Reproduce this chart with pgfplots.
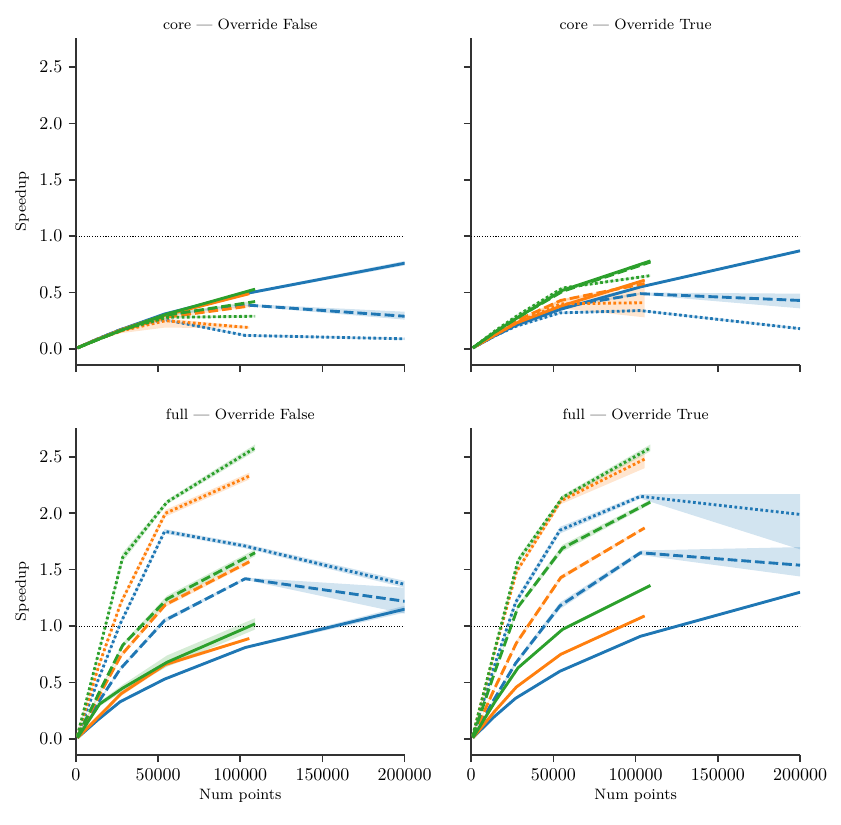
\documentclass[border=0pt]{standalone}
\usepackage{pgfplots}
\pgfplotsset{compat=1.18}
\usepackage{pgfplotstable}
\usepgfplotslibrary{groupplots,fillbetween}
\usetikzlibrary{calc}
\definecolor{tb}{HTML}{1F77B4}
\definecolor{to}{HTML}{FF7F0E}
\definecolor{tg}{HTML}{2CA02C}
\definecolor{spine}{HTML}{333333}

% columns: x, solid (s), dashed (d), dotted (p), each with lo/hi band
\pgfplotstableread{
x      s    slo  shi  d    dlo  dhi  p    plo  phi
1000   0.01 0.00 0.02 0.01 0.00 0.02 0.01 0.00 0.02
13500  0.09 0.08 0.10 0.09 0.08 0.10 0.09 0.08 0.10
27000  0.17 0.16 0.18 0.17 0.16 0.18 0.17 0.16 0.18
54000  0.31 0.30 0.32 0.30 0.29 0.31 0.26 0.25 0.27
103000 0.49 0.48 0.50 0.39 0.38 0.40 0.12 0.11 0.13
200000 0.76 0.74 0.78 0.29 0.26 0.33 0.09 0.08 0.10
}\cFb
\pgfplotstableread{
x      s    slo  shi  d    dlo  dhi  p    plo  phi
1000   0.01 0.00 0.02 0.01 0.00 0.02 0.01 0.00 0.02
14000  0.09 0.08 0.10 0.09 0.08 0.10 0.09 0.08 0.10
27500  0.17 0.16 0.18 0.16 0.15 0.17 0.16 0.14 0.18
54500  0.30 0.29 0.31 0.28 0.27 0.29 0.25 0.19 0.27
105500 0.49 0.48 0.50 0.38 0.37 0.39 0.19 0.18 0.20
}\cFo
\pgfplotstableread{
x      s    slo  shi  d    dlo  dhi  p    plo  phi
1000   0.01 0.00 0.02 0.01 0.00 0.02 0.01 0.00 0.02
14500  0.09 0.08 0.10 0.09 0.08 0.10 0.09 0.08 0.10
28500  0.17 0.16 0.18 0.17 0.16 0.18 0.17 0.16 0.18
55500  0.31 0.30 0.32 0.30 0.29 0.31 0.28 0.27 0.29
109000 0.53 0.52 0.54 0.42 0.41 0.43 0.29 0.28 0.30
}\cFg
\pgfplotstableread{
x      s    slo  shi  d    dlo  dhi  p    plo  phi
1000   0.01 0.00 0.02 0.01 0.00 0.02 0.01 0.00 0.02
13500  0.11 0.10 0.12 0.11 0.10 0.12 0.11 0.10 0.12
27000  0.21 0.20 0.22 0.21 0.20 0.22 0.20 0.19 0.21
54000  0.35 0.34 0.36 0.37 0.36 0.38 0.32 0.31 0.33
103000 0.55 0.54 0.56 0.49 0.48 0.50 0.34 0.33 0.35
200000 0.87 0.86 0.88 0.43 0.36 0.49 0.18 0.17 0.19
}\cTb
\pgfplotstableread{
x      s    slo  shi  d    dlo  dhi  p    plo  phi
1000   0.01 0.00 0.02 0.01 0.00 0.02 0.01 0.00 0.02
14000  0.12 0.11 0.13 0.13 0.12 0.14 0.12 0.11 0.13
27500  0.23 0.22 0.24 0.25 0.24 0.26 0.23 0.22 0.24
54500  0.38 0.37 0.39 0.43 0.42 0.44 0.40 0.36 0.44
105500 0.61 0.60 0.62 0.58 0.57 0.59 0.41 0.28 0.54
}\cTo
\pgfplotstableread{
x      s    slo  shi  d    dlo  dhi  p    plo  phi
1000   0.01 0.00 0.02 0.01 0.00 0.02 0.01 0.00 0.02
14500  0.15 0.14 0.16 0.15 0.14 0.16 0.16 0.15 0.17
28500  0.28 0.27 0.29 0.28 0.27 0.29 0.30 0.29 0.31
55500  0.52 0.51 0.53 0.51 0.50 0.52 0.54 0.53 0.55
109000 0.78 0.77 0.79 0.77 0.76 0.78 0.65 0.64 0.66
}\cTg
\pgfplotstableread{
x      s    slo  shi  d    dlo  dhi  p    plo  phi
1000   0.01 0.00 0.02 0.02 0.01 0.03 0.03 0.02 0.04
13500  0.17 0.16 0.18 0.32 0.31 0.33 0.52 0.51 0.53
27000  0.33 0.32 0.34 0.62 0.61 0.63 1.02 1.00 1.04
54000  0.53 0.52 0.54 1.05 1.03 1.07 1.84 1.82 1.86
103000 0.81 0.80 0.82 1.42 1.41 1.43 1.71 1.69 1.73
200000 1.15 1.12 1.18 1.22 1.11 1.34 1.37 1.34 1.40
}\fFb
\pgfplotstableread{
x      s    slo  shi  d    dlo  dhi  p    plo  phi
1000   0.01 0.00 0.02 0.02 0.01 0.03 0.03 0.02 0.04
14000  0.20 0.19 0.21 0.38 0.37 0.39 0.65 0.64 0.66
27500  0.40 0.38 0.42 0.74 0.72 0.76 1.21 1.19 1.23
54500  0.66 0.64 0.68 1.19 1.17 1.21 2.00 1.97 2.03
105500 0.89 0.88 0.90 1.57 1.55 1.59 2.33 2.30 2.36
}\fFo
\pgfplotstableread{
x      s    slo  shi  d    dlo  dhi  p    plo  phi
1000   0.01 0.00 0.02 0.02 0.01 0.03 0.03 0.02 0.04
14500  0.31 0.29 0.33 0.42 0.41 0.43 0.80 0.79 0.81
28500  0.45 0.42 0.48 0.83 0.81 0.85 1.61 1.57 1.65
55500  0.68 0.64 0.74 1.24 1.21 1.27 2.10 2.08 2.12
109000 1.02 0.97 1.07 1.65 1.62 1.68 2.58 2.55 2.61
}\fFg
\pgfplotstableread{
x      s    slo  shi  d    dlo  dhi  p    plo  phi
1000   0.01 0.00 0.02 0.02 0.01 0.03 0.03 0.02 0.04
13500  0.19 0.18 0.20 0.34 0.33 0.35 0.62 0.61 0.63
27000  0.36 0.35 0.37 0.67 0.65 0.69 1.21 1.18 1.24
54000  0.60 0.59 0.61 1.18 1.15 1.21 1.85 1.82 1.88
103000 0.91 0.90 0.92 1.65 1.63 1.67 2.15 2.13 2.17
200000 1.30 1.29 1.31 1.54 1.44 1.70 1.99 1.68 2.17
}\fTb
\pgfplotstableread{
x      s    slo  shi  d    dlo  dhi  p    plo  phi
1000   0.01 0.00 0.02 0.02 0.01 0.03 0.03 0.02 0.04
14000  0.24 0.23 0.25 0.44 0.43 0.45 0.76 0.75 0.77
27500  0.46 0.45 0.47 0.85 0.83 0.87 1.48 1.46 1.50
54500  0.75 0.74 0.76 1.43 1.41 1.45 2.11 2.08 2.14
105500 1.09 1.08 1.10 1.87 1.86 1.88 2.48 2.40 2.53
}\fTo
\pgfplotstableread{
x      s    slo  shi  d    dlo  dhi  p    plo  phi
1000   0.01 0.00 0.02 0.02 0.01 0.03 0.03 0.02 0.04
14500  0.33 0.32 0.34 0.60 0.59 0.61 0.80 0.79 0.81
28500  0.63 0.62 0.64 1.17 1.15 1.19 1.58 1.55 1.61
55500  0.97 0.96 0.98 1.69 1.66 1.72 2.14 2.12 2.16
109000 1.36 1.35 1.37 2.10 2.08 2.12 2.58 2.55 2.61
}\fTg

\tikzset{dsh/.style={dash pattern=on 5.4pt off 2.2pt},
         dtt/.style={dash pattern=on 1.5pt off 1.4pt}}

\newcommand{\ser}[5]{%
\addplot[name path=#1u, draw=none, forget plot] table[x=x,y=#4hi]{#2};
\addplot[name path=#1l, draw=none, forget plot] table[x=x,y=#4lo]{#2};
\addplot[fill=#3, fill opacity=0.2, draw=none, forget plot] fill between[of=#1u and #1l];
\addplot[#3, line width=1.6pt, #5, forget plot] table[x=x,y=#4]{#2};
}
\newcommand{\panel}[4]{%
\addplot[black, line width=0.5pt, dash pattern=on 0.6pt off 0.9pt, forget plot] coordinates {(0,1) (200000,1)};
\ser{#1bs}{#2}{tb}{s}{solid}
\ser{#1bd}{#2}{tb}{d}{dsh}
\ser{#1bp}{#2}{tb}{p}{dtt}
\ser{#1os}{#3}{to}{s}{solid}
\ser{#1od}{#3}{to}{d}{dsh}
\ser{#1op}{#3}{to}{p}{dtt}
\ser{#1gs}{#4}{tg}{s}{solid}
\ser{#1gd}{#4}{tg}{d}{dsh}
\ser{#1gp}{#4}{tg}{p}{dtt}
}

\begin{document}
\begin{tikzpicture}
\begin{groupplot}[
  group style={group size=2 by 2, horizontal sep=37pt, vertical sep=35pt},
  width=183pt, height=182pt, scale only axis,
  xmin=0, xmax=200000, ymin=-0.142, ymax=2.757,
  axis x line*=bottom, axis y line*=left,
  axis line style={spine, line width=0.9pt},
  tick style={spine, line width=0.9pt},
  tick align=outside, major tick length=4pt,
  xtick={0,50000,100000,150000,200000},
  ytick={0,0.5,1,1.5,2,2.5},
  scaled x ticks=false,
  x tick label style={/pgf/number format/.cd, fixed, 1000 sep={}},
  y tick label style={/pgf/number format/.cd, fixed, fixed zerofill, precision=1},
  title style={font=\fontsize{8.3}{10}\selectfont, yshift=-5pt},
  xlabel style={font=\fontsize{8.4}{10}\selectfont, yshift=2pt},
  ylabel style={font=\fontsize{8.4}{10}\selectfont},
  ylabel shift={-1pt},
  every axis plot/.append style={line join=round},
]
\nextgroupplot[title={core --- Override False}, ylabel={Speedup}, xticklabels={}]
\panel{a}{\cFb}{\cFo}{\cFg}
\nextgroupplot[title={core --- Override True}, xticklabels={}, yticklabels={}]
\panel{b}{\cTb}{\cTo}{\cTg}
\nextgroupplot[title={full --- Override False}, ylabel={Speedup}, xlabel={Num points}]
\panel{c}{\fFb}{\fFo}{\fFg}
\nextgroupplot[title={full --- Override True}, xlabel={Num points}, yticklabels={}]
\panel{d}{\fTb}{\fTo}{\fTg}
\end{groupplot}
\pgfresetboundingbox
\path[use as bounding box] ($(group c1r2.south west)+(-42.2pt,-38.9pt)$) rectangle ($(group c2r1.north east)+(22.8pt,21.1pt)$);
\end{tikzpicture}
\end{document}
